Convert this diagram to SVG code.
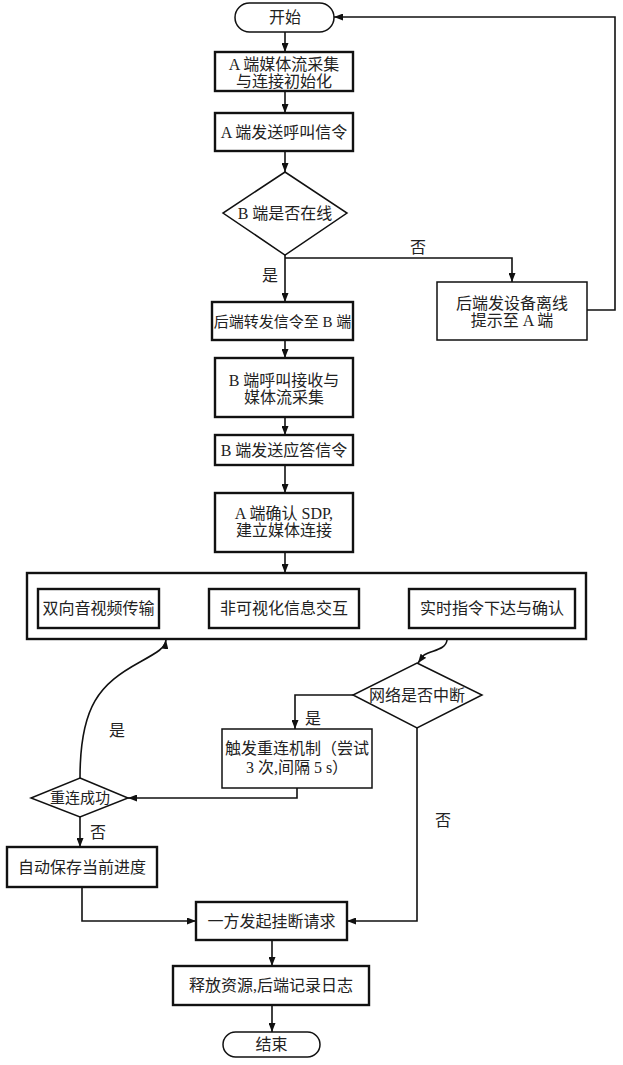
<svg xmlns="http://www.w3.org/2000/svg" width="623" height="1065" viewBox="0 0 623 1065">
<defs>
<marker id="ah" markerWidth="9" markerHeight="7" refX="9" refY="3.5" orient="auto" markerUnits="userSpaceOnUse">
<path d="M0,0 L9,3.5 L0,7 Z" fill="#111"/>
</marker>
<style>
.n{fill:#fff;stroke:#111;stroke-width:2.4}
.t{fill:#fff;stroke:#111;stroke-width:1.5}
.l{fill:none;stroke:#111;stroke-width:1.6}
text{font-family:"Liberation Serif","Noto Sans CJK SC",serif;font-size:16px;fill:#222;text-anchor:middle}
</style>
</defs>
<rect width="623" height="1065" fill="#fff"/>
<g id="connectors">
<path class="l" d="M285,32 V52" marker-end="url(#ah)"/>
<path class="l" d="M285,91 V113" marker-end="url(#ah)"/>
<path class="l" d="M285,151 V172" marker-end="url(#ah)"/>
<path class="l" d="M285,255 V302" marker-end="url(#ah)"/>
<path class="l" d="M285,258 H512 V282" marker-end="url(#ah)"/>
<path class="l" d="M587,310 H615 V17 H334" marker-end="url(#ah)"/>
<path class="l" d="M285,340 V358" marker-end="url(#ah)"/>
<path class="l" d="M285,417 V435" marker-end="url(#ah)"/>
<path class="l" d="M285,465 V493" marker-end="url(#ah)"/>
<path class="l" d="M285,552 V573" marker-end="url(#ah)"/>
<path class="l" d="M447,640 C446,650 432,650 424,655 L418,663" marker-end="url(#ah)"/>
<path class="l" d="M353,695 H295 V729" marker-end="url(#ah)"/>
<path class="l" d="M297,788 V798 H128" marker-end="url(#ah)"/>
<path class="l" d="M80,778 C80,705 100,684 140,662 C158,652 165,648 166,640" marker-end="url(#ah)"/>
<path class="l" d="M80,817 V847" marker-end="url(#ah)"/>
<path class="l" d="M82,887 V921 H196" marker-end="url(#ah)"/>
<path class="l" d="M417,728 V921 H347" marker-end="url(#ah)"/>
<path class="l" d="M272,940 V966" marker-end="url(#ah)"/>
<path class="l" d="M272,1005 V1032" marker-end="url(#ah)"/>
<text x="270" y="281">是</text>
<text x="418" y="253">否</text>
<text x="313" y="724">是</text>
<text x="117" y="736">是</text>
<text x="98" y="838">否</text>
<text x="443" y="826">否</text>
</g>
<g id="start"><rect class="t" x="235" y="3" width="99" height="29" rx="14.5"/><text x="285" y="23">开始</text></g>
<g id="a-init"><rect class="n" x="215" y="52" width="138" height="39"/><text x="284" y="70">A 端媒体流采集</text><text x="284" y="86.5">与连接初始化</text></g>
<g id="a-call"><rect class="n" x="215" y="113" width="138" height="38"/><text x="284" y="138">A 端发送呼叫信令</text></g>
<g id="b-online"><polygon class="t" points="285,172 347,213 285,255 223,213"/><text x="285" y="219">B 端是否在线</text></g>
<g id="forward"><rect class="n" x="212" y="302" width="141" height="38"/><text x="282.5" y="327" style="font-size:15px">后端转发信令至 B 端</text></g>
<g id="offline"><rect class="t" x="437" y="282" width="150" height="58"/><text x="512" y="309">后端发设备离线</text><text x="512" y="326">提示至 A 端</text></g>
<g id="b-recv"><rect class="n" x="215" y="358" width="138" height="59"/><text x="284" y="386">B 端呼叫接收与</text><text x="284" y="403">媒体流采集</text></g>
<g id="b-answer"><rect class="n" x="215" y="435" width="138" height="30"/><text x="284" y="456">B 端发送应答信令</text></g>
<g id="a-sdp"><rect class="n" x="215" y="493" width="138" height="59"/><text x="284" y="519">A 端确认 SDP,</text><text x="284" y="536">建立媒体连接</text></g>
<g id="session"><rect class="n" x="27" y="573" width="559" height="66"/>
<rect class="n" x="38" y="589" width="121" height="39"/><text x="98.5" y="614">双向音视频传输</text>
<rect class="n" x="209" y="589" width="150" height="39"/><text x="284" y="614">非可视化信息交互</text>
<rect class="n" x="409" y="589" width="166" height="39"/><text x="492" y="614">实时指令下达与确认</text></g>
<g id="net-break"><polygon class="t" points="417,663 482,695 417,728 353,695"/><text x="417" y="701">网络是否中断</text></g>
<g id="reconnect"><rect class="t" x="222" y="729" width="150" height="59"/><text x="297" y="754">触发重连机制（尝试</text><text x="297" y="773">3 次,间隔 5 s）</text></g>
<g id="reconnect-ok"><polygon class="t" points="80,778 128,798 80,817 31,798"/><text x="80" y="803" style="font-size:15px">重连成功</text></g>
<g id="autosave"><rect class="n" x="7" y="847" width="150" height="40"/><text x="82" y="873">自动保存当前进度</text></g>
<g id="hangup"><rect class="n" x="196" y="902" width="151" height="38"/><text x="271.5" y="927">一方发起挂断请求</text></g>
<g id="release"><rect class="n" x="173" y="966" width="196" height="39"/><text x="271" y="991">释放资源,后端记录日志</text></g>
<g id="end"><rect class="t" x="223" y="1032" width="97" height="25" rx="12.5"/><text x="271.5" y="1050">结束</text></g>
</svg>
